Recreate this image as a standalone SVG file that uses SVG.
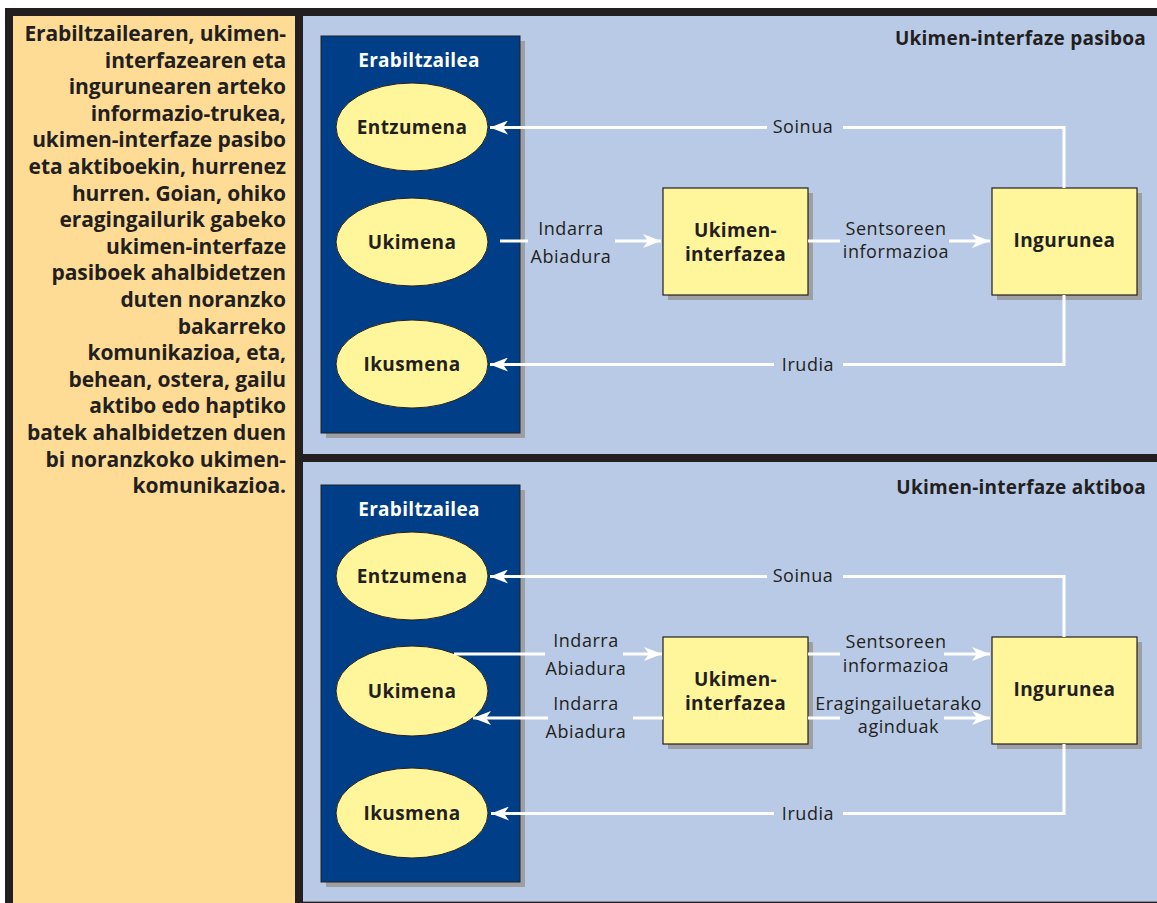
<svg xmlns="http://www.w3.org/2000/svg" width="1157" height="903" viewBox="0 0 1157 903">
<defs>
<marker id="arr" markerUnits="userSpaceOnUse" markerWidth="20" markerHeight="14" refX="18" refY="7" orient="auto">
<path d="M0,0 L18,7 L0,14 L5,7 Z" fill="#ffffff"/>
</marker>
<style>
.lbl{font-family:"Open Sans","Noto Sans",sans-serif;font-size:18px;fill:#231F20;text-anchor:middle;letter-spacing:0.55px}
.bold{font-family:"Open Sans","Noto Sans",sans-serif;font-size:19px;font-weight:bold;fill:#231F20;text-anchor:middle;letter-spacing:0.4px}
.wt{font-family:"Open Sans","Noto Sans",sans-serif;font-size:19px;font-weight:bold;fill:#ffffff;text-anchor:middle;letter-spacing:0.3px}
.title{font-family:"Open Sans","Noto Sans",sans-serif;font-size:19px;font-weight:bold;fill:#231F20;text-anchor:end;letter-spacing:0.25px}
.cap{font-family:"Open Sans","Noto Sans",sans-serif;font-size:21px;font-weight:bold;fill:#231F20;text-anchor:end;letter-spacing:-0.1px}
.conn{fill:none;stroke:#ffffff;stroke-width:3}
.ell{fill:#FFF59B;stroke:#231F20;stroke-width:1}
.box{fill:#FFF59B;stroke:#231F20;stroke-width:1.2}
.shadow{fill:#9D9FA2}
.user{fill:#003F87;stroke:#231F20;stroke-width:1}
</style>
</defs>
<rect x="0" y="0" width="1157" height="903" fill="#ffffff"/>
<rect x="5" y="8" width="1152" height="895" fill="#231F20"/>
<rect x="13" y="16" width="282" height="887" fill="#FFDC96"/>
<rect x="303" y="16" width="854" height="438" fill="#B9CAE6"/>
<rect x="303" y="462" width="854" height="439" fill="#B9CAE6"/>
<line x1="303" y1="901.5" x2="1157" y2="901.5" stroke="#8A8C9A" stroke-width="1"/>

<g id="caption">
<text class="cap" x="286" y="41">Erabiltzailearen, ukimen-</text>
<text class="cap" x="286" y="67.6">interfazearen eta</text>
<text class="cap" x="286" y="94.2">ingurunearen arteko</text>
<text class="cap" x="286" y="120.8">informazio-trukea,</text>
<text class="cap" x="286" y="147.4">ukimen-interfaze pasibo</text>
<text class="cap" x="286" y="174">eta aktiboekin, hurrenez</text>
<text class="cap" x="286" y="200.6">hurren. Goian, ohiko</text>
<text class="cap" x="286" y="227.2">eragingailurik gabeko</text>
<text class="cap" x="286" y="253.8">ukimen-interfaze</text>
<text class="cap" x="286" y="280.4">pasiboek ahalbidetzen</text>
<text class="cap" x="286" y="307">duten noranzko</text>
<text class="cap" x="286" y="333.6">bakarreko</text>
<text class="cap" x="286" y="360.2">komunikazioa, eta,</text>
<text class="cap" x="286" y="386.8">behean, ostera, gailu</text>
<text class="cap" x="286" y="413.4">aktibo edo haptiko</text>
<text class="cap" x="286" y="440">batek ahalbidetzen duen</text>
<text class="cap" x="286" y="466.6">bi noranzkoko ukimen-</text>
<text class="cap" x="286" y="493.2">komunikazioa.</text>
</g>

<text class="title" x="1146" y="45">Ukimen-interfaze pasiboa</text>
<text class="title" x="1146" y="494">Ukimen-interfaze aktiboa</text>

<g id="user-top">
<rect class="shadow" x="326" y="41" width="199" height="397"/>
<rect class="user" x="321" y="36" width="199" height="397"/>
<text class="wt" x="419" y="67">Erabiltzailea</text>
</g>
<g id="entzumena-top">
<ellipse class="ell" cx="412" cy="127" rx="76" ry="44"/>
<text class="bold" x="412" y="134">Entzumena</text>
</g>
<g id="ukimena-top">
<ellipse class="ell" cx="412" cy="242" rx="76" ry="44"/>
<text class="bold" x="412" y="249">Ukimena</text>
</g>
<g id="ikusmena-top">
<ellipse class="ell" cx="412" cy="364" rx="76" ry="44"/>
<text class="bold" x="412" y="371">Ikusmena</text>
</g>
<g id="interfazea-top">
<rect class="shadow" x="668" y="193" width="145" height="107"/>
<rect class="box" x="663" y="188" width="145" height="107"/>
<text class="bold" x="735.5" y="237">Ukimen-</text>
<text class="bold" x="735.5" y="261">interfazea</text>
</g>
<g id="ingurunea-top">
<rect class="shadow" x="997" y="193" width="145" height="107"/>
<rect class="box" x="992" y="188" width="145" height="107"/>
<text class="bold" x="1064.5" y="247">Ingurunea</text>
</g>

<g id="user-bottom">
<rect class="shadow" x="326" y="490" width="199" height="397"/>
<rect class="user" x="321" y="485" width="199" height="397"/>
<text class="wt" x="419" y="516">Erabiltzailea</text>
</g>
<g id="entzumena-bottom">
<ellipse class="ell" cx="412" cy="576" rx="76" ry="44"/>
<text class="bold" x="412" y="583">Entzumena</text>
</g>
<g id="ukimena-bottom">
<ellipse class="ell" cx="412" cy="691" rx="76" ry="45"/>
<text class="bold" x="412" y="698">Ukimena</text>
</g>
<g id="ikusmena-bottom">
<ellipse class="ell" cx="412" cy="813" rx="76" ry="45"/>
<text class="bold" x="412" y="820">Ikusmena</text>
</g>
<g id="interfazea-bottom">
<rect class="shadow" x="668" y="642" width="145" height="107"/>
<rect class="box" x="663" y="637" width="145" height="107"/>
<text class="bold" x="735.5" y="686">Ukimen-</text>
<text class="bold" x="735.5" y="710">interfazea</text>
</g>
<g id="ingurunea-bottom">
<rect class="shadow" x="997" y="642" width="145" height="107"/>
<rect class="box" x="992" y="637" width="145" height="107"/>
<text class="bold" x="1064.5" y="696">Ingurunea</text>
</g>

<g id="connectors">
<path class="conn" d="M843,127.5 H1064 V188"/>
<path class="conn" d="M767,127.5 H490" marker-end="url(#arr)"/>
<path class="conn" d="M500,241 H528"/>
<path class="conn" d="M615,241 H661" marker-end="url(#arr)"/>
<path class="conn" d="M808,241 H840"/>
<path class="conn" d="M949,241 H990" marker-end="url(#arr)"/>
<path class="conn" d="M1064,295 V364.5 H843"/>
<path class="conn" d="M774,364.5 H490" marker-end="url(#arr)"/>

<path class="conn" d="M843,576.5 H1064 V637"/>
<path class="conn" d="M767,576.5 H490" marker-end="url(#arr)"/>
<path class="conn" d="M454,654 H545"/>
<path class="conn" d="M623,654 H662" marker-end="url(#arr)"/>
<path class="conn" d="M663,718 H633"/>
<path class="conn" d="M548,718 H473" marker-end="url(#arr)"/>
<path class="conn" d="M808,654 H840"/>
<path class="conn" d="M944,654 H990" marker-end="url(#arr)"/>
<path class="conn" d="M808,718 H840"/>
<path class="conn" d="M944,718 H990" marker-end="url(#arr)"/>
<path class="conn" d="M1064,744 V813.5 H843"/>
<path class="conn" d="M774,813.5 H491" marker-end="url(#arr)"/>
</g>

<g id="labels">
<text class="lbl" x="803" y="133">Soinua</text>
<text class="lbl" x="571" y="235">Indarra</text>
<text class="lbl" x="571" y="263">Abiadura</text>
<text class="lbl" x="896" y="235">Sentsoreen</text>
<text class="lbl" x="896" y="258">informazioa</text>
<text class="lbl" x="808" y="371">Irudia</text>

<text class="lbl" x="803" y="582">Soinua</text>
<text class="lbl" x="586" y="647">Indarra</text>
<text class="lbl" x="586" y="675">Abiadura</text>
<text class="lbl" x="586" y="710">Indarra</text>
<text class="lbl" x="586" y="738">Abiadura</text>
<text class="lbl" x="896" y="648">Sentsoreen</text>
<text class="lbl" x="896" y="672">informazioa</text>
<text class="lbl" x="898.5" y="710">Eragingailuetarako</text>
<text class="lbl" x="898.5" y="733">aginduak</text>
<text class="lbl" x="808" y="820">Irudia</text>
</g>
</svg>
